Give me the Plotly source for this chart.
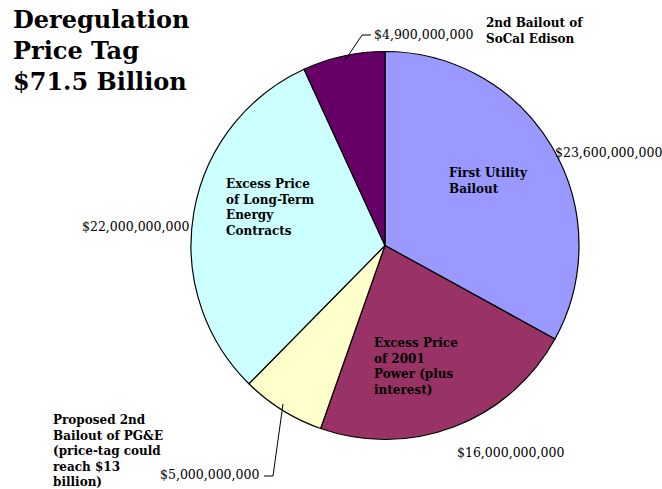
import plotly.graph_objects as go

W, H = 662, 489

categories = [
    "First Utility<br>Bailout",
    "Excess Price<br>of 2001<br>Power (plus<br>interest)",
    "Proposed 2nd<br>Bailout of PG&E<br>(price-tag could<br>reach $13<br>billion)",
    "Excess Price<br>of Long-Term<br>Energy<br>Contracts",
    "2nd Bailout of<br>SoCal Edison",
]
values = [23600000000, 16000000000, 5000000000, 22000000000, 4900000000]
value_labels = ["$23,600,000,000", "$16,000,000,000", "$5,000,000,000",
                "$22,000,000,000", "$4,900,000,000"]
colors = ["#9999FF", "#993366", "#FFFFCC", "#CCFFFF", "#660066"]

cx, cy, r = 385, 245.5, 194

fig = go.Figure(go.Pie(
    values=values,
    labels=[c.replace("<br>", " ") for c in categories],
    sort=False,
    direction="clockwise",
    rotation=0,
    marker=dict(colors=colors, line=dict(color="black", width=1.2)),
    textinfo="none",
    hoverinfo="none",
    showlegend=False,
    domain=dict(x=[(cx - r) / W, (cx + r) / W],
                y=[(H - cy - r) / H, (H - cy + r) / H]),
))

def px(x):
    return x / W

def py(y):
    return 1 - y / H

SERIF = "DejaVu Serif"
ann = []
# title
ann.append(dict(x=px(11), y=py(51), text="<b>Deregulation<br>Price Tag<br>$71.5 Billion</b>",
                font=dict(family=SERIF, size=24, color="black")))
# category labels (x, y center)
cat_pos = [(447, 181), (372, 366), (51, 451), (224, 207), (484, 31)]
for (x, y), t in zip(cat_pos, categories):
    ann.append(dict(x=px(x), y=py(y), text="<b>" + t + "</b>",
                    font=dict(family=SERIF, size=12, color="black")))
# value labels
val_pos = [(553, 153), (455, 452), (158, 474), (80, 226), (372, 35)]
for (x, y), t in zip(val_pos, value_labels):
    ann.append(dict(x=px(x), y=py(y), text=t,
                    font=dict(family=SERIF, size=12.5, color="black")))
for a in ann:
    a.update(xref="paper", yref="paper", xanchor="left", yanchor="middle",
             align="left", showarrow=False)

shapes = [
    dict(type="path", xref="paper", yref="paper",
         path=f"M {px(371)} {py(35)} L {px(362)} {py(35)} L {px(344)} {py(62)}",
         line=dict(color="black", width=1)),
    dict(type="path", xref="paper", yref="paper",
         path=f"M {px(264)} {py(476)} L {px(273)} {py(476)} L {px(283)} {py(404)}",
         line=dict(color="black", width=1)),
]

fig.update_layout(
    width=W, height=H,
    margin=dict(l=0, r=0, t=0, b=0),
    paper_bgcolor="white", plot_bgcolor="white",
    annotations=ann, shapes=shapes,
)
fig.write_html("out.html", config={"displayModeBar": False},
               post_script="document.body.style.margin='0';document.body.style.padding='0';")
